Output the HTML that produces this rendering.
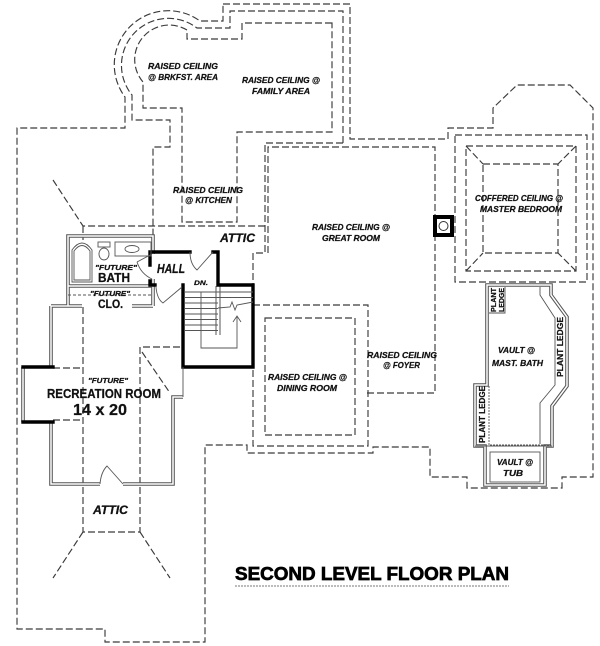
<!DOCTYPE html>
<html><head><meta charset="utf-8"><style>
html,body{margin:0;padding:0;background:#fff;}
svg{display:block;}
.d{fill:none;stroke:#3a3a3a;stroke-width:1.15;stroke-dasharray:7 3;}
.wo{fill:none;stroke:#555;stroke-width:3.6;stroke-linejoin:miter;}
.wi{fill:none;stroke:#fff;stroke-width:1.5;stroke-linejoin:miter;}
.t{fill:none;stroke:#000;stroke-width:3.4;stroke-linecap:square;}
.th{fill:none;stroke:#555;stroke-width:0.9;}
text{font-family:"Liberation Sans",Arial,sans-serif;font-weight:bold;fill:#111;stroke:#111;stroke-width:0.25;}
.i{font-style:italic;}
.s{font-size:8.5px;}
</style></head><body>
<svg width="600" height="646" viewBox="0 0 600 646" xmlns="http://www.w3.org/2000/svg">
<rect width="600" height="646" fill="#fff"/>

<!-- Outer dashed line A -->
<path class="d" d="M223,4 L350,4 L350,139 L448,139 L448,128 L493,128 L493,108 L517,85 L570,85 L593,108 L593,477 L562,477 L562,488 L467,488 L467,477 L430,477 L430,447 L373,447 L373,453 L247,453 L247,445 L205,445 L205,642 L105,642 L105,629 L17,629 L17,128 L125,128 L125,97 A54,54 0 0 1 200,21 L223,21 Z"/>
<!-- Line B -->
<path class="d" d="M343,143 L343,11 L230,11 L230,28 L197,28 A47,47 0 0 0 132,95 L132,120 L170,120 L170,147 L153,147 L153,236"/>
<path class="d" d="M343,143 L265,143 L265,253 L253,253 L253,285"/>
<!-- Line C (family / kitchen inner) -->
<path class="d" d="M332,23 L242,23 L242,39 L187,39 L187,30 A34.5,34.5 0 0 0 143,82 L143,108 L182,108 L182,222 L237,222 L237,132 L332,132 Z"/>
<!-- Great room -->
<path class="d" d="M268,253 L268,147 L435,147 L435,393 L367,393"/>
<!-- Dining -->
<path class="d" d="M253,305 L368,305 L368,446 L253,446 L253,367"/>
<rect class="d" x="265" y="318" width="90" height="117"/>
<!-- Attic / left lines -->
<path class="d" d="M53,180 L83,226 L265,226"/>
<path class="d" d="M83,226 L83,240"/>
<path class="d" d="M83,307 L83,532 L140,532 L140,347 L183,347"/>
<path class="d" d="M83,532 L53,578 M140,532 L170,578"/>
<path class="d" d="M53,368 L83,368 M53,420 L83,420"/>
<path class="d" d="M142,352 L170,393"/>
<!-- Master bedroom -->
<rect class="d" x="455" y="135" width="132" height="147"/>
<rect class="d" x="466" y="146" width="110" height="125"/>
<rect class="d" x="483" y="164" width="75" height="89"/>
<path class="d" d="M466,146 L483,164 M576,146 L558,164 M466,271 L483,253 M576,271 L558,253"/>

<!-- Double walls -->
<g>
<path class="wo" d="M51,306 L51,367 M51,422 L51,484 L100,484 M123,484 L173,484 L173,397 L183,397"/>
<path class="wo" d="M51,306 L82,306 M132,306 L153,306 M68,306 L68,236 L153,236 L153,254 M153,279 L153,306 M68,286 L153,286"/>
<path class="wo" d="M23,367 L23,422"/>
<path class="wo" d="M487,385 L487,285 L551,285 L551,295 L567,317 L567,386 L552,406 L552,446 L545,446 L545,485 L485,485 L485,446 L475,446 L475,385 Z"/>
<path class="wo" d="M216,286 L216,335 M220,286 L220,335" style="stroke-width:1;"/>
<path class="wi" d="M51,306 L51,367 M51,422 L51,484 L100,484 M123,484 L173,484 L173,397 L183,397"/>
<path class="wi" d="M51,306 L82,306 M132,306 L153,306 M68,306 L68,236 L153,236 L153,254 M153,279 L153,306 M68,286 L153,286"/>
<path class="wi" d="M23,367 L23,422"/>
<path class="wi" d="M487,385 L487,285 L551,285 L551,295 L567,317 L567,386 L552,406 L552,446 L545,446 L545,485 L485,485 L485,446 L475,446 L475,385 Z"/>
</g>
<!-- master bath inner lines -->
<path class="th" d="M540,287 L540,295 L555,318 L555,385 L540,403 L540,444"/>
<path class="th" d="M489,313 L505,313 L505,287"/>
<path class="th" d="M489,386 L489,445 L551,445" style="stroke-dasharray:2 1"/>
<rect class="th" x="490" y="452" width="50" height="30"/>
<path class="th" d="M475,446 L552,446"/>

<!-- Thick walls -->
<path class="t" d="M150,265 L150,252 L190,252"/>
<path class="t" d="M213,252 L218,252 L218,285 L253,285 L253,367 L183,367 L183,285"/>
<path class="t" d="M150,281 L150,285 L155,285"/>
<path class="t" d="M53,367 L23,367 M23,422 L53,422"/>
<path class="th" d="M183,367 L183,397"/>

<!-- Column -->
<rect x="433" y="215" width="21" height="22" fill="#000"/>
<rect x="437" y="219" width="13" height="14" fill="#fff"/>
<circle cx="443.5" cy="226" r="4.5" fill="none" stroke="#333" stroke-width="1"/>

<!-- Bath fixtures -->
<path class="th" d="M72,282 L72,250 Q82,236 92,250 L92,282 Z"/>
<path class="th" d="M74,280 L74,251 Q82,240 90,251 L90,280 Z"/>
<rect class="th" x="98" y="242" width="12" height="5"/>
<ellipse class="th" cx="104" cy="254" rx="5" ry="6"/>
<rect class="th" x="115" y="242" width="36" height="14"/>
<ellipse class="th" cx="132" cy="249" rx="7" ry="3.5"/>
<path class="th" d="M68,295 L153,295" style="stroke-dasharray:3 2"/>

<!-- Doors -->
<path class="th" d="M152,254 L137,262 M137,262 Q141,274 152,279"/>
<path class="th" d="M190,252 Q190,264 197,270 L213,252"/>
<path class="th" d="M156,287 Q157,299 163,303 L182,287"/>
<path class="th" d="M100,484 Q101,472 107,466 L123,484"/>

<!-- Stairs -->
<g class="th">
<path d="M185,292 L218,292 M185,297.5 L218,297.5 M185,303 L218,303 M185,308.5 L218,308.5 M185,314 L218,314 M185,319.5 L218,319.5 M185,325 L218,325 M185,330.5 L218,330.5"/>
<path d="M218,292 L253,292 M218,297.5 L253,297.5"/>
<path d="M201,292 L201,348 L237,348 L237,316"/>
<path d="M233,322 L237,316 L241,322"/>
<path d="M218,308 L230,307 L232,302 L235,310 L237,305 L253,302"/>
</g>

<!-- Labels -->
<g class="i s">
<text x="148" y="69" textLength="70" lengthAdjust="spacingAndGlyphs">RAISED CEILING</text>
<text x="148" y="80" textLength="70" lengthAdjust="spacingAndGlyphs">@ BRKFST. AREA</text>
<text x="242" y="83" textLength="78" lengthAdjust="spacingAndGlyphs">RAISED CEILING @</text>
<text x="252" y="94" textLength="58" lengthAdjust="spacingAndGlyphs">FAMILY AREA</text>
<text x="173" y="193" textLength="70" lengthAdjust="spacingAndGlyphs">RAISED CEILING</text>
<text x="185" y="203" textLength="47" lengthAdjust="spacingAndGlyphs">@ KITCHEN</text>
<text x="312" y="230" textLength="78" lengthAdjust="spacingAndGlyphs">RAISED CEILING @</text>
<text x="322" y="241" textLength="58" lengthAdjust="spacingAndGlyphs">GREAT ROOM</text>
<text x="475" y="201" textLength="88" lengthAdjust="spacingAndGlyphs">COFFERED CEILING @</text>
<text x="480" y="212" textLength="82" lengthAdjust="spacingAndGlyphs">MASTER BEDROOM</text>
<text x="367" y="358" textLength="70" lengthAdjust="spacingAndGlyphs">RAISED CEILING</text>
<text x="383" y="368" textLength="37" lengthAdjust="spacingAndGlyphs">@ FOYER</text>
<text x="268" y="380" textLength="79" lengthAdjust="spacingAndGlyphs">RAISED CEILING @</text>
<text x="277" y="391" textLength="60" lengthAdjust="spacingAndGlyphs">DINING ROOM</text>
<text x="498" y="353" textLength="37" lengthAdjust="spacingAndGlyphs">VAULT @</text>
<text x="492" y="366" textLength="51" lengthAdjust="spacingAndGlyphs">MAST. BATH</text>
<text x="497" y="465" textLength="36" lengthAdjust="spacingAndGlyphs">VAULT @</text>
<text x="503" y="476" textLength="20" lengthAdjust="spacingAndGlyphs">TUB</text>
</g>
<g style="font-size:8px;">
<text transform="translate(563,377) rotate(-90)" textLength="60" lengthAdjust="spacingAndGlyphs">PLANT LEDGE</text>
<text transform="translate(485,443) rotate(-90)" textLength="57" lengthAdjust="spacingAndGlyphs">PLANT LEDGE</text>
</g>
<g style="font-size:7px;">
<text transform="translate(496,312) rotate(-90)" textLength="24" lengthAdjust="spacingAndGlyphs">PLANT</text>
<text transform="translate(504,312) rotate(-90)" textLength="24" lengthAdjust="spacingAndGlyphs">LEDGE</text>
</g>

<text class="i" x="220" y="242" style="font-size:12px;" textLength="35" lengthAdjust="spacingAndGlyphs">ATTIC</text>
<text class="i" x="93" y="514" style="font-size:11.5px;" textLength="35" lengthAdjust="spacingAndGlyphs">ATTIC</text>
<text class="i" x="157" y="273" style="font-size:13px;" textLength="28" lengthAdjust="spacingAndGlyphs">HALL</text>
<text class="i" x="95" y="270" style="font-size:7.5px;" textLength="42" lengthAdjust="spacingAndGlyphs">"FUTURE"</text>
<text x="98" y="282" style="font-size:12.5px;" textLength="32" lengthAdjust="spacingAndGlyphs">BATH</text>
<text class="i" x="90" y="296" style="font-size:7.5px;" textLength="40" lengthAdjust="spacingAndGlyphs">"FUTURE"</text>
<text x="98" y="308" style="font-size:11.5px;" textLength="25" lengthAdjust="spacingAndGlyphs">CLO.</text>
<text class="i" x="194" y="285" style="font-size:6.5px;" textLength="14" lengthAdjust="spacingAndGlyphs">DN.</text>
<text class="i" x="88" y="383" style="font-size:7.5px;" textLength="40" lengthAdjust="spacingAndGlyphs">"FUTURE"</text>
<text x="47" y="398" style="font-size:12.5px;" textLength="114" lengthAdjust="spacingAndGlyphs">RECREATION ROOM</text>
<text x="73" y="415" style="font-size:16px;" textLength="54" lengthAdjust="spacingAndGlyphs">14 x 20</text>

<!-- Title -->
<text x="235" y="580" style="font-size:18px;stroke:#000;stroke-width:0.7;fill:#000;" textLength="274" lengthAdjust="spacingAndGlyphs">SECOND LEVEL FLOOR PLAN</text>
<line x1="235" y1="586" x2="509" y2="586" stroke="#777" stroke-width="1" stroke-dasharray="2 1"/>
</svg>
</body></html>
